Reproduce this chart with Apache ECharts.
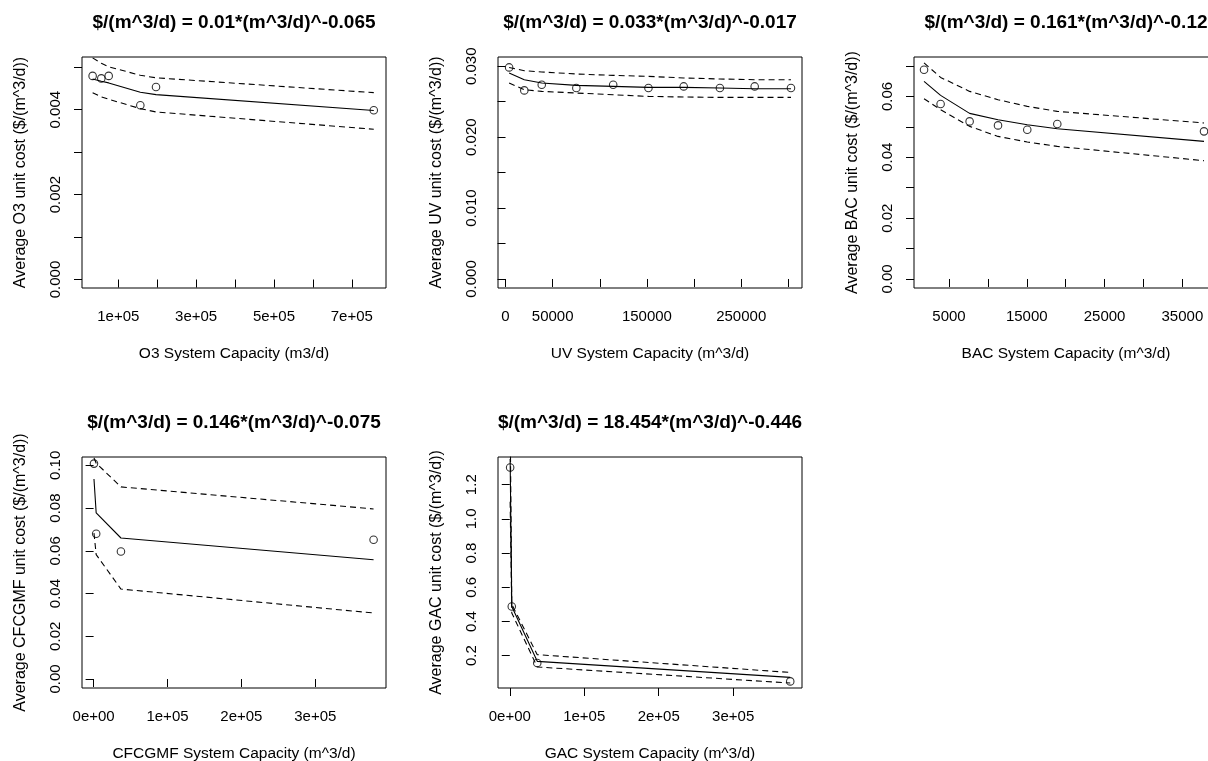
<!DOCTYPE html>
<html>
<head>
<meta charset="utf-8">
<title>unit cost fits</title>
<script src="https://cdn.jsdelivr.net/npm/echarts@6/dist/echarts.min.js"></script>
<style>
html, body { margin: 0; padding: 0; background: #fff; }
#main { width: 1208px; height: 761px; }
</style>
</head>
<body>
<div id="main"></div>
<script>
// O3
var o3X = [34000, 56300, 75300, 156600, 196900, 756600];
var o3Y = [0.004795, 0.004736, 0.004795, 0.004104, 0.004535, 0.003986];
var o3Fit = [0.004724, 0.00467, 0.00463, 0.00441, 0.004354, 0.003981];
var o3Upper = [0.00522, 0.00509, 0.00501, 0.00481, 0.00475, 0.0044];
var o3Lower = [0.0044, 0.0043, 0.004245, 0.004024, 0.003946, 0.003538];

// UV
var uvX = [3800, 19900, 38400, 75100, 114200, 151600, 189000, 227400, 264300, 302800];
var uvY = [0.02984, 0.0266, 0.0274, 0.02694, 0.0274, 0.02694, 0.02716, 0.02694, 0.02716, 0.02694];
var uvFit = [0.02906, 0.02811, 0.02764, 0.02731, 0.02716, 0.02702, 0.02702, 0.02694, 0.02684, 0.02684];
var uvUpper = [0.02984, 0.02938, 0.0292, 0.02891, 0.02872, 0.02858, 0.02835, 0.02821, 0.02811, 0.02811];
var uvLower = [0.02764, 0.0267, 0.02646, 0.02623, 0.02599, 0.02575, 0.02567, 0.02561, 0.02561, 0.02561];

// BAC
var bacX = [1790, 3920, 7650, 11300, 15060, 18920, 37780];
var bacY = [0.06878, 0.05751, 0.05179, 0.05048, 0.04906, 0.05094, 0.04851];
var bacFit = [0.06494, 0.06034, 0.05442, 0.05235, 0.05071, 0.04939, 0.04522];
var bacUpper = [0.0710, 0.06625, 0.06165, 0.05892, 0.05672, 0.05508, 0.05127];
var bacLower = [0.05925, 0.05563, 0.05015, 0.04686, 0.04502, 0.04358, 0.03888];

// CFCGMF
var cfX = [500, 3500, 37000, 378900];
var cfY = [0.1008, 0.068, 0.0597, 0.0652];
var cfFit = [0.0936, 0.0777, 0.066, 0.0558];
var cfUpper = [0.1035, 0.101, 0.0899, 0.0796];
var cfLower = [0.0683, 0.0582, 0.0421, 0.0309];

// GAC
var gacX = [500, 2700, 36900, 376600];
var gacY = [1.301, 0.488, 0.157, 0.0497];
var gacFit = [1.35, 0.488, 0.167, 0.073];
var gacUpper = [1.6, 0.5, 0.206, 0.102];
var gacLower = [1.1, 0.45, 0.134, 0.04];

// tick marks and the labels R kept
var o3XTicks = [100000, 200000, 300000, 400000, 500000, 600000, 700000];
var o3XLabelAt = [100000, 300000, 500000, 700000];
var o3XLabels = ['1e+05', '3e+05', '5e+05', '7e+05'];
var o3YTicks = [0, 0.001, 0.002, 0.003, 0.004, 0.005];
var o3YLabelAt = [0, 0.002, 0.004];
var o3YLabels = ['0.000', '0.002', '0.004'];

var uvXTicks = [0, 50000, 100000, 150000, 200000, 250000, 300000];
var uvXLabelAt = [0, 50000, 150000, 250000];
var uvXLabels = ['0', '50000', '150000', '250000'];
var uvYTicks = [0, 0.005, 0.01, 0.015, 0.02, 0.025, 0.03];
var uvYLabelAt = [0, 0.01, 0.02, 0.03];
var uvYLabels = ['0.000', '0.010', '0.020', '0.030'];

var bacXTicks = [5000, 10000, 15000, 20000, 25000, 30000, 35000];
var bacXLabelAt = [5000, 15000, 25000, 35000];
var bacXLabels = ['5000', '15000', '25000', '35000'];
var bacYTicks = [0, 0.01, 0.02, 0.03, 0.04, 0.05, 0.06, 0.07];
var bacYLabelAt = [0, 0.02, 0.04, 0.06];
var bacYLabels = ['0.00', '0.02', '0.04', '0.06'];

var bigXTicks = [0, 100000, 200000, 300000];
var bigXLabels = ['0e+00', '1e+05', '2e+05', '3e+05'];
var cfYTicks = [0, 0.02, 0.04, 0.06, 0.08, 0.1];
var cfYLabels = ['0.00', '0.02', '0.04', '0.06', '0.08', '0.10'];
var gacYTicks = [0.2, 0.4, 0.6, 0.8, 1.0, 1.2];
var gacYLabels = ['0.2', '0.4', '0.6', '0.8', '1.0', '1.2'];

var FONT = '"Liberation Sans", Arial, sans-serif';

var panels = [
    { title: '$/(m^3/d) = 0.01*(m^3/d)^-0.065', xName: 'O3 System Capacity (m3/d)', yName: 'Average O3 unit cost ($/(m^3/d))',
      x: o3X, y: o3Y, fit: o3Fit, up: o3Upper, lo: o3Lower, xMin: 6700, xMax: 788000, yMin: -0.0002, yMax: 0.00524,
      xTicks: o3XTicks, xAt: o3XLabelAt, xLab: o3XLabels, yTicks: o3YTicks, yAt: o3YLabelAt, yLab: o3YLabels, col: 0, row: 0 },
    { title: '$/(m^3/d) = 0.033*(m^3/d)^-0.017', xName: 'UV System Capacity (m^3/d)', yName: 'Average UV unit cost ($/(m^3/d))',
      x: uvX, y: uvY, fit: uvFit, up: uvUpper, lo: uvLower, xMin: -8000, xMax: 314500, yMin: -0.00127, yMax: 0.03131,
      xTicks: uvXTicks, xAt: uvXLabelAt, xLab: uvXLabels, yTicks: uvYTicks, yAt: uvYLabelAt, yLab: uvYLabels, col: 1, row: 0 },
    { title: '$/(m^3/d) = 0.161*(m^3/d)^-0.12', xName: 'BAC System Capacity (m^3/d)', yName: 'Average BAC unit cost ($/(m^3/d))',
      x: bacX, y: bacY, fit: bacFit, up: bacUpper, lo: bacLower, xMin: 500, xMax: 39580, yMin: -0.00296, yMax: 0.07295,
      xTicks: bacXTicks, xAt: bacXLabelAt, xLab: bacXLabels, yTicks: bacYTicks, yAt: bacYLabelAt, yLab: bacYLabels, col: 2, row: 0 },
    { title: '$/(m^3/d) = 0.146*(m^3/d)^-0.075', xName: 'CFCGMF System Capacity (m^3/d)', yName: 'Average CFCGMF unit cost ($/(m^3/d))',
      x: cfX, y: cfY, fit: cfFit, up: cfUpper, lo: cfLower, xMin: -15700, xMax: 395700, yMin: -0.0042, yMax: 0.1039,
      xTicks: bigXTicks, xAt: bigXTicks, xLab: bigXLabels, yTicks: cfYTicks, yAt: cfYTicks, yLab: cfYLabels, col: 0, row: 1 },
    { title: '$/(m^3/d) = 18.454*(m^3/d)^-0.446', xName: 'GAC System Capacity (m^3/d)', yName: 'Average GAC unit cost ($/(m^3/d))',
      x: gacX, y: gacY, fit: gacFit, up: gacUpper, lo: gacLower, xMin: -15800, xMax: 392400, yMin: 0.011, yMax: 1.362,
      xTicks: bigXTicks, xAt: bigXTicks, xLab: bigXLabels, yTicks: gacYTicks, yAt: gacYTicks, yLab: gacYLabels, col: 1, row: 1 }
];

var colLeft = [82, 498, 914];
var rowTop = [57, 457];
var boxW = 304, boxH = 231;

function pairs(xs, ys) {
    return xs.map(function (v, i) { return [v, ys[i]]; });
}

function labelFor(at, text) {
    return function (v) {
        for (var i = 0; i < at.length; i++) {
            if (Math.abs(at[i] - v) < 1e-9) return text[i];
        }
        return '';
    };
}

var grids = [], xAxes = [], yAxes = [], series = [], graphics = [];

panels.forEach(function (p, i) {
    var left = colLeft[p.col], top = rowTop[p.row];
    grids.push({
        left: left, top: top, width: boxW, height: boxH,
        show: true, borderColor: '#000', borderWidth: 1, backgroundColor: 'transparent',
        containLabel: false, outerBoundsMode: 'none'
    });
    xAxes.push({
        gridIndex: i, type: 'value', min: p.xMin, max: p.xMax,
        name: p.xName, nameLocation: 'middle', nameGap: 57.5,
        nameTextStyle: { color: '#000', fontSize: 15.5, fontFamily: FONT },
        axisLine: { show: false },
        splitLine: { show: false },
        axisTick: { show: true, inside: false, length: 8, customValues: p.xTicks, lineStyle: { color: '#000' } },
        axisLabel: { customValues: p.xAt, formatter: labelFor(p.xAt, p.xLab), margin: 21.5, color: '#000', fontSize: 15, fontFamily: FONT }
    });
    yAxes.push({
        gridIndex: i, type: 'value', min: p.yMin, max: p.yMax,
        name: p.yName, nameLocation: 'middle', nameGap: 53, nameRotate: 90,
        nameTextStyle: { color: '#000', fontSize: 16, fontFamily: FONT },
        axisLine: { show: false },
        splitLine: { show: false },
        axisTick: { show: true, inside: false, length: 8, customValues: p.yTicks, lineStyle: { color: '#000' } },
        axisLabel: { customValues: p.yAt, formatter: labelFor(p.yAt, p.yLab), rotate: 90, margin: 18.5, color: '#000', fontSize: 15, fontFamily: FONT }
    });

    // fitted curve and the two dashed bands
    [[p.fit, 'solid'], [p.up, [6, 4]], [p.lo, [6, 4]]].forEach(function (l) {
        series.push({
            type: 'line', xAxisIndex: i, yAxisIndex: i, data: pairs(p.x, l[0]),
            symbol: 'none', silent: true, clip: true,
            lineStyle: { color: '#000', width: 1.1, type: l[1] }
        });
    });
    series.push({
        type: 'scatter', xAxisIndex: i, yAxisIndex: i, data: pairs(p.x, p.y),
        symbol: 'circle', symbolSize: 7.5, silent: true, clip: true,
        itemStyle: { color: 'rgba(0,0,0,0)', borderColor: '#000', borderWidth: 1.1 }
    });

    graphics.push({
        type: 'text', x: left + boxW / 2, y: top - 34, silent: true,
        style: {
            text: p.title, fill: '#000', font: 'bold 19px ' + FONT,
            textAlign: 'center', align: 'center', verticalAlign: 'middle', textVerticalAlign: 'middle'
        }
    });
});

var chartDom = document.getElementById('main');
var myChart = echarts.init(chartDom);
var option = {
    animation: false,
    backgroundColor: '#fff',
    grid: grids,
    xAxis: xAxes,
    yAxis: yAxes,
    series: series,
    graphic: graphics
};
option && myChart.setOption(option);
</script>
</body>
</html>
